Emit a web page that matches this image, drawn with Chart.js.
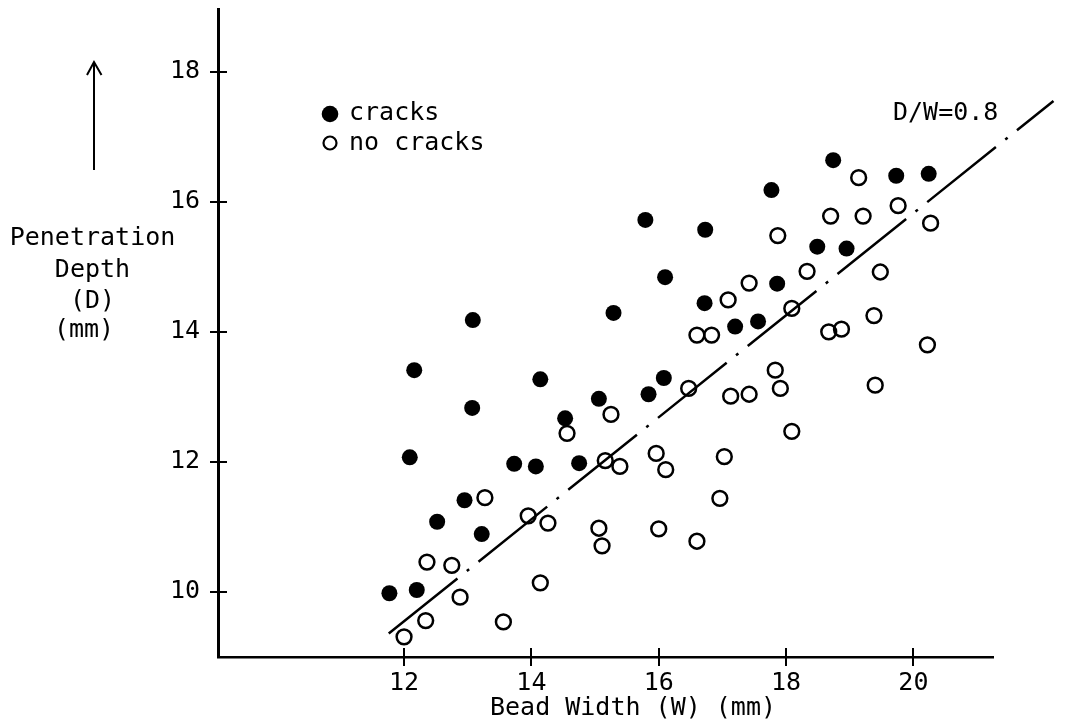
<!DOCTYPE html>
<html><head><meta charset="utf-8">
<script src="https://cdn.jsdelivr.net/npm/chart.js@4.4.1/dist/chart.umd.min.js"></script>
<style>html,body{margin:0;padding:0;background:#fff;}#wrap{width:1075px;height:727px;position:relative;}</style>
</head><body><div id="wrap"><canvas id="c"></canvas></div>
<script>
// ---- data ----
const crackW = [11.77,12.20,12.52,12.95,13.22,12.09,12.16,13.08,13.07,13.73,14.07,14.14,14.53,14.75,15.06,15.29,15.84,16.08,15.79,16.10,16.73,16.72,17.20,17.56,17.86,17.77,18.49,18.95,18.74,19.73,20.24];
const crackD = [9.98,10.03,11.08,11.41,10.89,12.07,13.41,14.18,12.83,11.97,11.93,13.27,12.67,11.98,12.97,14.29,13.04,13.29,15.72,14.84,15.57,14.44,14.08,14.16,14.74,16.18,15.31,15.28,16.64,16.40,16.43];
const noCrackW = [12.00,12.34,12.36,12.75,12.88,13.27,13.56,13.95,14.26,14.14,14.56,15.06,15.11,15.16,15.39,15.25,15.96,16.11,16.00,16.47,16.60,16.83,17.03,16.96,16.60,17.09,17.13,17.42,17.42,17.83,17.91,17.87,18.09,18.09,18.33,18.67,18.87,18.70,19.14,19.21,19.38,19.40,19.48,19.76,20.27,20.22];
const noCrackD = [9.31,9.56,10.46,10.41,9.92,11.45,9.54,11.17,11.06,10.14,12.44,10.98,10.71,12.02,11.93,12.73,12.13,11.88,10.97,13.13,13.95,13.95,12.08,11.44,10.78,14.49,13.01,13.04,14.75,13.41,13.13,15.48,14.36,12.47,14.93,14.00,14.04,15.78,16.37,15.78,14.25,13.18,14.92,15.94,15.67,13.80];
const ratioLineW = [11.76, 22.2];
const ratioLineD = [9.36, 17.55];
const xTicks = [12, 14, 16, 18, 20];
const yTicks = [10, 12, 14, 16, 18];
const seriesLabels = ['cracks', 'no cracks'];
const ratioLabel = 'D/W=0.8';
const xTitle = 'Bead Width (W) (mm)';
const yTitleLines = ['Penetration', 'Depth', '(D)', '(mm)'];

// ---- styling ----
const FONT = '"DejaVu Sans Mono", monospace';
const FSIZE = 25;
const toPts = (xs, ys) => xs.map((x, i) => ({x: x, y: ys[i]}));

const decor = {
  id: 'decor',
  afterDraw(chart) {
    const ctx = chart.ctx;
    const xs = chart.scales.x, ys = chart.scales.y;
    const a = chart.chartArea;
    ctx.save();
    ctx.strokeStyle = '#000';
    ctx.fillStyle = '#000';
    // crossing tick marks
    ctx.lineWidth = 2;
    xTicks.forEach(v => {
      const px = Math.round(xs.getPixelForValue(v));
      ctx.beginPath(); ctx.moveTo(px, a.bottom - 9); ctx.lineTo(px, a.bottom + 9); ctx.stroke();
    });
    yTicks.forEach(v => {
      const py = Math.round(ys.getPixelForValue(v));
      ctx.beginPath(); ctx.moveTo(a.left - 8, py); ctx.lineTo(a.left + 9, py); ctx.stroke();
    });
    ctx.font = FSIZE + 'px ' + FONT;
    ctx.textBaseline = 'middle';
    // y title
    ctx.textAlign = 'center';
    const yTitleX = [92.5, 92.5, 92.5, 84];
    const yTitleY = [238, 270, 301, 330];
    yTitleLines.forEach((t, i) => ctx.fillText(t, yTitleX[i], yTitleY[i]));
    // arrow
    ctx.lineWidth = 2;
    ctx.beginPath(); ctx.moveTo(94, 170); ctx.lineTo(94, 62); ctx.stroke();
    ctx.beginPath(); ctx.moveTo(87, 75); ctx.lineTo(94, 62); ctx.lineTo(101.5, 75); ctx.stroke();
    // x title
    ctx.fillText(xTitle, 633, 708);
    // ratio label
    ctx.textAlign = 'left';
    ctx.fillText(ratioLabel, 893, 113);
    // legend
    ctx.beginPath(); ctx.arc(330, 114, 8.3, 0, Math.PI * 2); ctx.fill();
    ctx.lineWidth = 2.2;
    ctx.beginPath(); ctx.arc(330, 143, 6.5, 0, Math.PI * 2); ctx.stroke();
    ctx.fillText(seriesLabels[0], 349, 113);
    ctx.fillText(seriesLabels[1], 349, 143);
    ctx.restore();
  }
};

new Chart(document.getElementById('c'), {
  type: 'scatter',
  data: {
    datasets: [
      {
        label: seriesLabels[0], data: toPts(crackW, crackD),
        pointRadius: 8, pointBorderWidth: 0,
        pointBackgroundColor: '#000', pointBorderColor: '#000', order: 1
      },
      {
        label: seriesLabels[1], data: toPts(noCrackW, noCrackD),
        pointRadius: 7.4, pointBorderWidth: 2.5,
        pointBackgroundColor: 'rgba(0,0,0,0)', pointBorderColor: '#000', order: 2
      },
      {
        type: 'line', label: ratioLabel, data: toPts(ratioLineW, ratioLineD),
        borderColor: '#000', borderWidth: 2.5, borderDash: [88, 12, 3, 12],
        pointRadius: 0, fill: false, clip: false, order: 3
      }
    ]
  },
  options: {
    responsive: true, maintainAspectRatio: false, animation: false, events: [],
    layout: {padding: {left: 0, top: 8, right: 82, bottom: 0}},
    plugins: {legend: {display: false}, tooltip: {enabled: false}},
    scales: {
      x: {
        type: 'linear', min: 9.078, max: 21.25,
        afterFit: s => { s.height = 70; s.paddingLeft = 0; s.paddingRight = 0; },
        afterBuildTicks: s => { s.ticks = xTicks.map(v => ({value: v})); },
        grid: {display: false},
        border: {display: true, color: '#000', width: 2.5},
        ticks: {color: '#000', padding: 3, font: {family: FONT, size: FSIZE}, maxRotation: 0, autoSkip: false}
      },
      y: {
        type: 'linear', min: 9.0, max: 18.95,
        afterFit: s => { s.width = 218; s.paddingTop = 0; s.paddingBottom = 0; },
        afterBuildTicks: s => { s.ticks = yTicks.map(v => ({value: v})); },
        grid: {display: false},
        border: {display: true, color: '#000', width: 3},
        ticks: {color: '#000', padding: 10, font: {family: FONT, size: FSIZE}, autoSkip: false}
      }
    }
  },
  plugins: [decor]
});
</script></body></html>
